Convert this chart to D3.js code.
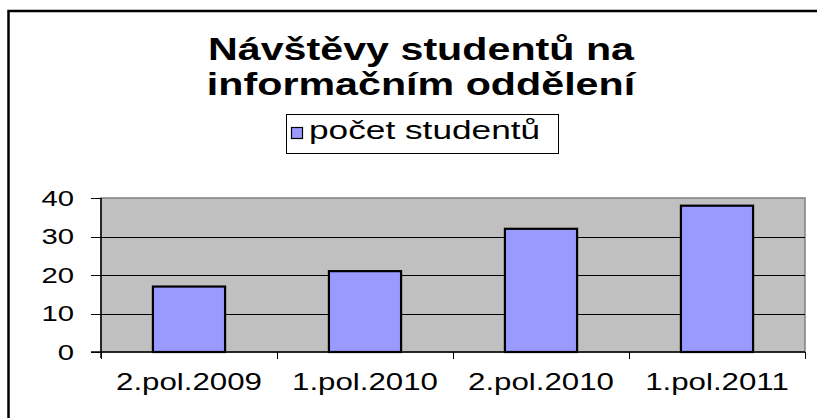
<!DOCTYPE html>
<html>
<head>
<meta charset="utf-8">
<script src="https://cdn.jsdelivr.net/npm/d3@7"></script>
<style>
  html, body { margin: 0; padding: 0; background: #fff; }
  svg { display: block; font-family: "Liberation Sans", Arial, sans-serif; }
</style>
</head>
<body>
<svg id="chart"></svg>
<script>
// ---- data ----
const categories = ["2.pol.2009", "1.pol.2010", "2.pol.2010", "1.pol.2011"];
const studentCounts = [17, 21, 32, 38];
const yTicks = [0, 10, 20, 30, 40];
const titleLines = ["Návštěvy studentů na", "informačním oddělení"];
const seriesName = "počet studentů";

const width = 817, height = 418;
const SX = 1.33; // the original image is stretched sideways, so is the text

const svg = d3.select("#chart")
  .attr("width", width)
  .attr("height", height);

svg.append("rect").attr("width", width).attr("height", height).attr("fill", "#fff");

// outer chart frame (runs off the right and bottom edges)
svg.append("rect")
  .attr("x", 8.5).attr("y", 11)
  .attr("width", 830).attr("height", 430)
  .attr("fill", "none")
  .attr("stroke", "#000")
  .attr("stroke-width", 2.5);

// helper: text stretched horizontally around its anchor
function stretchedText(g, x, y, str, size, anchor, weight) {
  return g.append("text")
    .attr("transform", `translate(${x},${y}) scale(${SX},1)`)
    .attr("text-anchor", anchor)
    .attr("font-size", size)
    .attr("font-weight", weight || "normal")
    .attr("fill", "#000")
    .text(str);
}

/********* title *********/
const titleG = svg.append("g");
titleLines.forEach((line, i) => {
  stretchedText(titleG, 421, 60 + i * 35, line, 31, "middle", "bold");
});

/********* legend *********/
const legendG = svg.append("g");
legendG.append("rect")
  .attr("x", 286.5).attr("y", 114.5)
  .attr("width", 272).attr("height", 39)
  .attr("fill", "#fff").attr("stroke", "#000").attr("stroke-width", 1);
legendG.append("rect")
  .attr("x", 291.5).attr("y", 127.5)
  .attr("width", 11).attr("height", 11)
  .attr("fill", "#9999ff").attr("stroke", "#000").attr("stroke-width", 1.2);
stretchedText(legendG, 309, 139, seriesName, 26.5, "start");

/********* plot area *********/
const plot = { left: 101, right: 805, top: 198, bottom: 352 };

const x = d3.scaleBand()
  .domain(categories)
  .range([plot.left, plot.right])
  .paddingInner(0.59)
  .paddingOuter(0.295);

const y = d3.scaleLinear()
  .domain([0, 40])
  .range([plot.bottom, plot.top]);

const plotG = svg.append("g");
plotG.append("rect")
  .attr("x", plot.left).attr("y", plot.top)
  .attr("width", plot.right - plot.left)
  .attr("height", plot.bottom - plot.top)
  .attr("fill", "#c0c0c0")
  .attr("stroke", "#808080")
  .attr("stroke-width", 1.5);

// gridlines
plotG.selectAll("line.grid")
  .data(yTicks.filter(d => d > 0 && d < 40))
  .enter().append("line")
  .attr("class", "grid")
  .attr("x1", plot.left).attr("x2", plot.right)
  .attr("y1", d => Math.round(y(d)) + 0.5)
  .attr("y2", d => Math.round(y(d)) + 0.5)
  .attr("stroke", "#000")
  .attr("stroke-width", 1);

// bars
plotG.selectAll("rect.bar")
  .data(studentCounts)
  .enter().append("rect")
  .attr("class", "bar")
  .attr("x", (d, i) => x(categories[i]))
  .attr("y", d => y(d))
  .attr("width", x.bandwidth())
  .attr("height", d => y(0) - y(d))
  .attr("fill", "#9999ff")
  .attr("stroke", "#000")
  .attr("stroke-width", 2.2);

/********* axes *********/
const axisG = svg.append("g");
// y axis line + ticks
axisG.append("line")
  .attr("x1", plot.left).attr("x2", plot.left)
  .attr("y1", plot.top).attr("y2", plot.bottom + 6)
  .attr("stroke", "#000").attr("stroke-width", 1.5);
axisG.selectAll("line.ytick")
  .data(yTicks)
  .enter().append("line")
  .attr("class", "ytick")
  .attr("x1", plot.left - 10).attr("x2", plot.left)
  .attr("y1", d => Math.round(y(d)) + 0.5)
  .attr("y2", d => Math.round(y(d)) + 0.5)
  .attr("stroke", "#000").attr("stroke-width", 1);
yTicks.forEach(d => {
  stretchedText(axisG, 74, y(d) + 7.5, String(d), 22, "end");
});

// x axis line + ticks at band boundaries
axisG.append("line")
  .attr("x1", plot.left - 10).attr("x2", plot.right)
  .attr("y1", plot.bottom).attr("y2", plot.bottom)
  .attr("stroke", "#000").attr("stroke-width", 1.5);
const step = x.step();
const boundaries = categories.map((c, i) => x(c) - x.paddingInner() * step / 2).concat([plot.right]);
axisG.selectAll("line.xtick")
  .data(boundaries)
  .enter().append("line")
  .attr("class", "xtick")
  .attr("x1", d => Math.round(d) + 0.5).attr("x2", d => Math.round(d) + 0.5)
  .attr("y1", plot.bottom).attr("y2", plot.bottom + 7)
  .attr("stroke", "#000").attr("stroke-width", 1);
categories.forEach(c => {
  stretchedText(axisG, x(c) + x.bandwidth() / 2, 390, c, 23.5, "middle");
});
</script>
</body>
</html>
